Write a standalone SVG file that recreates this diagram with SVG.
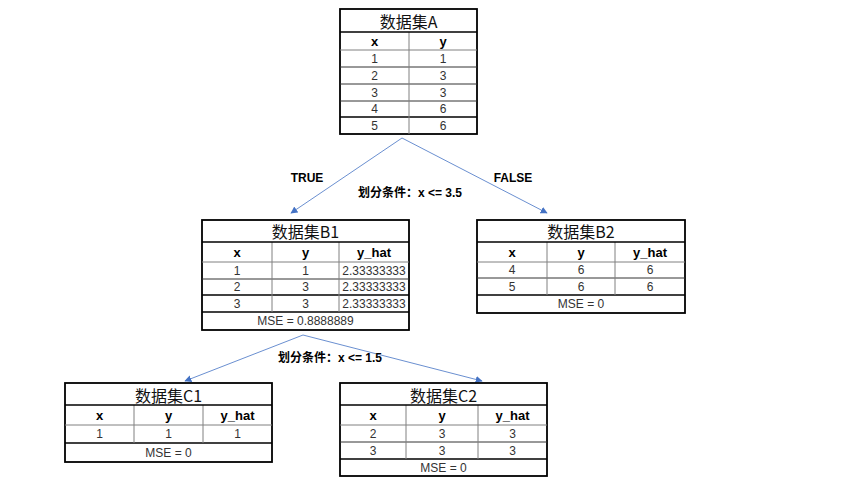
<svg xmlns="http://www.w3.org/2000/svg" width="849" height="502" viewBox="0 0 849 502">
<defs>
<marker id="ah" viewBox="0 0 10 10" refX="9" refY="5" markerWidth="7" markerHeight="7" orient="auto" markerUnits="userSpaceOnUse">
<path d="M0,0 L10,5 L0,10 z" fill="#4472c4"/>
</marker>
</defs>
<style>
.outer{fill:#fff;stroke:#000;stroke-width:1.8}
.sep{stroke:#000;stroke-width:1.3}
.grid{stroke:#808080;stroke-width:1}
.rowl{stroke:#333;stroke-width:1}
.title{font-family:"Noto Sans CJK SC","Liberation Sans",sans-serif;font-size:16px;fill:#111;text-anchor:middle;dominant-baseline:central}
.hdr{font-family:"Liberation Sans",Arial,sans-serif;font-size:13px;font-weight:bold;fill:#000;text-anchor:middle;dominant-baseline:central}
.cell{font-family:"Liberation Sans",Arial,sans-serif;font-size:12px;fill:#333;text-anchor:middle;dominant-baseline:central}
.lbl{font-family:"Liberation Sans","Noto Sans CJK SC",sans-serif;font-size:12px;font-weight:bold;fill:#000;text-anchor:middle;dominant-baseline:central}
.conn{stroke:#4472c4;stroke-width:0.8;fill:none}
</style>
<rect width="849" height="502" fill="#fff"/>

<g id="connectors">
<line class="conn" x1="402" y1="138" x2="291" y2="213" marker-end="url(#ah)"/>
<line class="conn" x1="402" y1="138" x2="547" y2="213" marker-end="url(#ah)"/>
<line class="conn" x1="303" y1="335" x2="185" y2="381" marker-end="url(#ah)"/>
<line class="conn" x1="303" y1="335" x2="482" y2="381" marker-end="url(#ah)"/>
<text class="lbl" x="307" y="178">TRUE</text>
<text class="lbl" x="513" y="178">FALSE</text>
<text class="lbl" x="410" y="193">划分条件：x &lt;= 3.5</text>
<text class="lbl" x="330" y="358">划分条件：x &lt;= 1.5</text>
</g>

<g id="datasetA">
<rect class="outer" x="340" y="9" width="137" height="125"/>
<line class="grid" x1="340" y1="50" x2="477" y2="50"/>
<line class="rowl" x1="340" y1="67" x2="477" y2="67"/>
<line class="rowl" x1="340" y1="84" x2="477" y2="84"/>
<line class="rowl" x1="340" y1="101" x2="477" y2="101"/>
<line class="sep" x1="340" y1="117" x2="477" y2="117"/>
<line class="grid" x1="409" y1="32" x2="409" y2="134"/>
<line class="sep" x1="340" y1="32" x2="477" y2="32"/>
<text class="title" x="408.5" y="20.5">数据集A</text>
<text class="hdr" x="374.5" y="41">x</text><text class="hdr" x="443" y="41">y</text>
<text class="cell" x="374.5" y="58.5">1</text><text class="cell" x="443" y="58.5">1</text>
<text class="cell" x="374.5" y="75.5">2</text><text class="cell" x="443" y="75.5">3</text>
<text class="cell" x="374.5" y="92.5">3</text><text class="cell" x="443" y="92.5">3</text>
<text class="cell" x="374.5" y="109">4</text><text class="cell" x="443" y="109">6</text>
<text class="cell" x="374.5" y="125.5">5</text><text class="cell" x="443" y="125.5">6</text>
</g>

<g id="datasetB1">
<rect class="outer" x="202" y="220" width="207" height="110"/>
<line class="grid" x1="202" y1="262" x2="409" y2="262"/>
<line class="rowl" x1="202" y1="279" x2="409" y2="279"/>
<line class="sep" x1="202" y1="295" x2="409" y2="295"/>
<line class="sep" x1="202" y1="312" x2="409" y2="312"/>
<line class="grid" x1="272" y1="242" x2="272" y2="312"/>
<line class="grid" x1="339" y1="242" x2="339" y2="312"/>
<line class="sep" x1="202" y1="242" x2="409" y2="242"/>
<text class="title" x="305.5" y="231">数据集B1</text>
<text class="hdr" x="237" y="252">x</text><text class="hdr" x="305.5" y="252">y</text><text class="hdr" x="374" y="252">y_hat</text>
<text class="cell" x="237" y="270.5">1</text><text class="cell" x="305.5" y="270.5">1</text><text class="cell" x="374" y="270.5">2.33333333</text>
<text class="cell" x="237" y="287">2</text><text class="cell" x="305.5" y="287">3</text><text class="cell" x="374" y="287">2.33333333</text>
<text class="cell" x="237" y="303.5">3</text><text class="cell" x="305.5" y="303.5">3</text><text class="cell" x="374" y="303.5">2.33333333</text>
<text class="cell" x="305.5" y="321">MSE = 0.8888889</text>
</g>

<g id="datasetB2">
<rect class="outer" x="477" y="220" width="208" height="93"/>
<line class="grid" x1="477" y1="262" x2="685" y2="262"/>
<line class="rowl" x1="477" y1="278" x2="685" y2="278"/>
<line class="sep" x1="477" y1="295" x2="685" y2="295"/>
<line class="grid" x1="547" y1="242" x2="547" y2="295"/>
<line class="grid" x1="615" y1="242" x2="615" y2="295"/>
<line class="sep" x1="477" y1="242" x2="685" y2="242"/>
<text class="title" x="581" y="231">数据集B2</text>
<text class="hdr" x="512" y="252">x</text><text class="hdr" x="581" y="252">y</text><text class="hdr" x="650" y="252">y_hat</text>
<text class="cell" x="512" y="270">4</text><text class="cell" x="581" y="270">6</text><text class="cell" x="650" y="270">6</text>
<text class="cell" x="512" y="286.5">5</text><text class="cell" x="581" y="286.5">6</text><text class="cell" x="650" y="286.5">6</text>
<text class="cell" x="581" y="304">MSE = 0</text>
</g>

<g id="datasetC1">
<rect class="outer" x="65" y="383" width="207" height="79"/>
<line class="grid" x1="65" y1="425" x2="272" y2="425"/>
<line class="sep" x1="65" y1="443" x2="272" y2="443"/>
<line class="grid" x1="134" y1="405" x2="134" y2="443"/>
<line class="grid" x1="203" y1="405" x2="203" y2="443"/>
<line class="sep" x1="65" y1="405" x2="272" y2="405"/>
<text class="title" x="168.5" y="394.5">数据集C1</text>
<text class="hdr" x="99.5" y="415.5">x</text><text class="hdr" x="168.5" y="415.5">y</text><text class="hdr" x="237.5" y="415.5">y_hat</text>
<text class="cell" x="99.5" y="434">1</text><text class="cell" x="168.5" y="434">1</text><text class="cell" x="237.5" y="434">1</text>
<text class="cell" x="168.5" y="452.5">MSE = 0</text>
</g>

<g id="datasetC2">
<rect class="outer" x="340" y="383" width="207" height="93"/>
<line class="grid" x1="340" y1="425" x2="547" y2="425"/>
<line class="rowl" x1="340" y1="442" x2="547" y2="442"/>
<line class="sep" x1="340" y1="459" x2="547" y2="459"/>
<line class="grid" x1="406" y1="405" x2="406" y2="459"/>
<line class="grid" x1="478" y1="405" x2="478" y2="459"/>
<line class="sep" x1="340" y1="405" x2="547" y2="405"/>
<text class="title" x="443.5" y="394.5">数据集C2</text>
<text class="hdr" x="373" y="415.5">x</text><text class="hdr" x="442" y="415.5">y</text><text class="hdr" x="512.5" y="415.5">y_hat</text>
<text class="cell" x="373" y="433.5">2</text><text class="cell" x="442" y="433.5">3</text><text class="cell" x="512.5" y="433.5">3</text>
<text class="cell" x="373" y="450.5">3</text><text class="cell" x="442" y="450.5">3</text><text class="cell" x="512.5" y="450.5">3</text>
<text class="cell" x="443.5" y="467.5">MSE = 0</text>
</g>
</svg>
